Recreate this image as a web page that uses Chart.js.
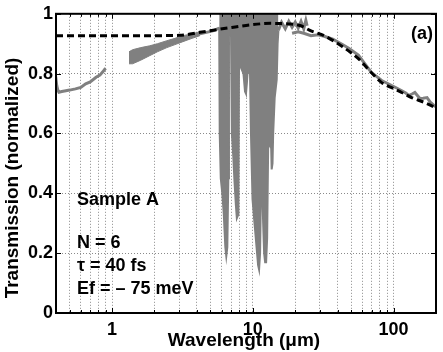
<!DOCTYPE html>
<html><head><meta charset="utf-8">
<script src="https://cdn.jsdelivr.net/npm/chart.js@4.4.0/dist/chart.umd.min.js"></script>
<style>html,body{margin:0;padding:0;background:#fff;}canvas{display:block;}</style>
</head><body>
<canvas id="c" width="443" height="352"></canvas>
<script>
// ---- data (wavelength in µm, transmission normalized) ----
const modelWl = [0.4, 0.6, 1, 1.5, 2, 3, 4.2, 5.9, 7.5, 9.6, 13.4, 18.6, 21.9, 25.9, 32.1, 42.4, 56.2, 69.7, 82.2, 96.9, 114, 134, 167, 200];
const modelT  = [0.927, 0.927, 0.927, 0.927, 0.927, 0.928, 0.938, 0.949, 0.956, 0.963, 0.968, 0.966, 0.96, 0.943, 0.927, 0.893, 0.85, 0.803, 0.77, 0.753, 0.737, 0.72, 0.703, 0.685];

const seg1Wl = [0.398, 0.405, 0.412, 0.42, 0.44, 0.47, 0.5, 0.55, 0.6, 0.65, 0.7, 0.77, 0.82, 0.86, 0.9];
const seg1T  = [0.79, 0.76, 0.745, 0.738, 0.74, 0.743, 0.745, 0.749, 0.754, 0.766, 0.772, 0.788, 0.795, 0.806, 0.818];

const bandWl = [1.32, 1.4, 1.6, 1.85, 2.1, 2.45, 2.8, 3.19, 3.7, 4.21];
const bandLo = [0.833, 0.833, 0.845, 0.86, 0.873, 0.887, 0.897, 0.907, 0.918, 0.927];
const bandHi = [0.873, 0.88, 0.887, 0.893, 0.9, 0.91, 0.918, 0.927, 0.933, 0.94];

const seg2aWl = [4.0, 4.6, 5.2, 5.77];
const seg2aT  = [0.931, 0.937, 0.943, 0.952];

// lower envelope of the dense absorption bands (filled up to the top)
const absWl = [5.77, 5.82, 5.92, 6.07, 6.22, 6.38, 6.48, 6.59, 6.70, 6.77, 7.0, 7.10, 7.27, 7.39, 7.58, 7.70, 7.90, 7.99, 8.14, 8.23, 8.58, 8.80, 8.94, 9.08, 9.23, 9.55, 9.70, 9.95, 10.28, 10.63, 10.9, 11.08, 11.26, 11.45, 11.64, 11.84, 12.03, 12.23, 12.43, 12.64, 12.85, 13.18, 13.5, 13.61, 13.8, 13.95, 14.3, 14.78, 15.0, 15.2];
const absT  = [0.955, 0.6, 0.45, 0.40, 0.33, 0.22, 0.19, 0.22, 0.45, 0.93, 0.93, 0.6, 0.52, 0.45, 0.36, 0.317, 0.33, 0.9, 0.9, 0.82, 0.8, 0.74, 0.733, 0.77, 0.82, 0.8, 0.6, 0.38, 0.3, 0.22, 0.16, 0.145, 0.2, 0.44, 0.44, 0.3, 0.2, 0.17, 0.17, 0.25, 0.55, 0.57, 0.55, 0.48, 0.5, 0.6, 0.72, 0.78, 0.9, 0.945];

const seg2bWl = [15.2, 16, 17, 18, 19, 20, 21, 22, 23, 23.8, 24.3];
const seg2bT  = [0.945, 0.972, 0.95, 0.975, 0.955, 0.972, 0.952, 0.975, 0.95, 0.978, 0.96];

const seg3Wl = [19, 21, 23, 25.9, 29, 32.1, 37, 42.4, 48, 56.2, 62, 69.7, 76, 82.2, 90, 96.9, 105, 114.3, 122, 128.3, 135, 141.6, 147, 153.8, 162, 172.7, 182, 193.8, 200];
const seg3T  = [0.935, 0.94, 0.935, 0.927, 0.93, 0.925, 0.915, 0.90, 0.885, 0.862, 0.835, 0.803, 0.79, 0.777, 0.768, 0.76, 0.752, 0.743, 0.735, 0.727, 0.732, 0.737, 0.728, 0.717, 0.718, 0.72, 0.705, 0.693, 0.69];

const xTickValues = [0.5, 0.6, 0.7, 0.8, 0.9, 1, 2, 3, 4, 5, 6, 7, 8, 9, 10, 20, 30, 40, 50, 60, 70, 80, 90, 100];
const xTickLabels = [1, 10, 100];
const yTickValues = [0, 0.2, 0.4, 0.6, 0.8, 1];
const yTickLabels = ['0', '0.2', '0.4', '0.6', '0.8', '1'];

const texts = ['Sample A', 'N = 6', '\u03C4 = 40 fs', 'Ef = \u2013 75 meV'];
const panelLabel = '(a)';
const xTitle = 'Wavelength (\u03BCm)';
const yTitle = 'Transmission (normalized)';

// ---- rendering ----
const FONT = '"Liberation Sans", Arial, Helvetica, sans-serif';
const GRAY = '#808080';
const toXY = (xs, ys) => xs.map((x, i) => ({x: x, y: ys[i]}));

const frame = {
  id: 'frame',
  afterDatasetsDraw(chart) {
    const {ctx, chartArea: a, scales} = chart;
    ctx.save();
    ctx.strokeStyle = '#000';
    ctx.lineWidth = 1;
    ctx.beginPath();
    xTickValues.forEach(v => {
      const px = Math.round(scales.x.getPixelForValue(v)) + 0.5;
      const L = xTickLabels.includes(v) ? 5 : 3;
      ctx.moveTo(px, a.bottom); ctx.lineTo(px, a.bottom - L);
      ctx.moveTo(px, a.top); ctx.lineTo(px, a.top + L);
    });
    yTickValues.forEach(v => {
      const py = Math.round(scales.y.getPixelForValue(v)) + 0.5;
      ctx.moveTo(a.left, py); ctx.lineTo(a.left + 5, py);
      ctx.moveTo(a.right, py); ctx.lineTo(a.right - 5, py);
    });
    ctx.stroke();
    ctx.lineWidth = 2;
    ctx.strokeRect(a.left, a.top, a.right - a.left, a.bottom - a.top);
    ctx.restore();
  },
  afterDraw(chart) {
    const {ctx} = chart;
    ctx.save();
    ctx.fillStyle = '#000';
    ctx.font = 'bold 18px ' + FONT;
    ctx.textBaseline = 'middle';
    ctx.textAlign = 'left';
    const ys = [200, 243, 266, 289];
    texts.forEach((t, i) => ctx.fillText(t, 77, ys[i]));
    ctx.textAlign = 'right';
    ctx.fillText(panelLabel, 433, 34);
    ctx.font = 'bold 19px ' + FONT;
    ctx.textAlign = 'center';
    ctx.fillText(xTitle, 244, 341);
    ctx.translate(13, 178);
    ctx.rotate(-Math.PI / 2);
    ctx.fillText(yTitle, 0, 0);
    ctx.restore();
  }
};

const line = (xs, ys, extra) => Object.assign({data: toXY(xs, ys), showLine: true, borderColor: GRAY, borderWidth: 3, pointRadius: 0, order: 2}, extra || {});

new Chart(document.getElementById('c'), {
  type: 'scatter',
  data: {
    datasets: [
      line(modelWl, modelT, {borderColor: '#000', borderDash: [7, 4], cubicInterpolationMode: 'monotone', order: 0}),
      line(seg1Wl, seg1T),
      line(bandWl, bandLo, {borderWidth: 1, order: 3}),
      line(bandWl, bandHi, {borderWidth: 1, order: 3, fill: '-1', backgroundColor: GRAY}),
      line(seg2aWl, seg2aT),
      line(absWl, absT, {borderWidth: 2, fill: 'end', backgroundColor: GRAY, order: 3}),
      line(seg2bWl, seg2bT),
      line(seg3Wl, seg3T)
    ]
  },
  options: {
    responsive: false,
    animation: false,
    devicePixelRatio: 1,
    layout: {padding: {top: 13, right: 7, left: 0, bottom: 0}},
    plugins: {legend: {display: false}, tooltip: {enabled: false}},
    scales: {
      x: {
        type: 'logarithmic', min: 0.4, max: 200,
        afterBuildTicks: s => { s.ticks = xTickValues.map(v => ({value: v})); },
        afterFit: s => { s.height = 39; },
        grid: {color: '#8a8a8a', lineWidth: 1, drawTicks: false, borderDash: [1, 2]},
        border: {display: false, dash: [1, 2]},
        ticks: {
          autoSkip: false, maxRotation: 0, padding: 6, color: '#000',
          font: {family: FONT, size: 18, weight: 'bold'},
          callback: v => xTickLabels.includes(v) ? String(v) : ''
        }
      },
      y: {
        type: 'linear', min: 0, max: 1,
        afterBuildTicks: s => { s.ticks = yTickValues.map(v => ({value: v})); },
        afterFit: s => { s.width = 56; },
        grid: {color: '#8a8a8a', lineWidth: 1, drawTicks: false, borderDash: [1, 2]},
        border: {display: false, dash: [1, 2]},
        ticks: {
          padding: 3, color: '#000',
          font: {family: FONT, size: 18, weight: 'bold'},
          callback: v => yTickLabels[yTickValues.indexOf(v)] ?? ''
        }
      }
    }
  },
  plugins: [frame]
});
</script>
</body></html>
